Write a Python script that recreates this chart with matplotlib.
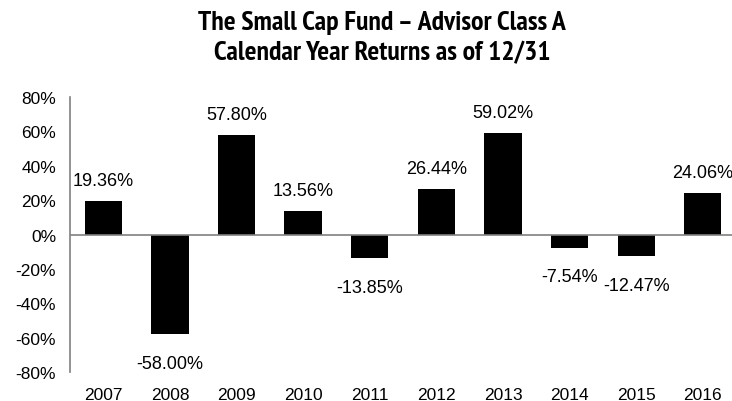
import matplotlib
matplotlib.use("Agg")
import matplotlib.pyplot as plt
from matplotlib.ticker import FuncFormatter
from matplotlib import font_manager
from matplotlib.font_manager import FontProperties
import os

years = ["2007", "2008", "2009", "2010", "2011", "2012", "2013", "2014", "2015", "2016"]
returns = [19.36, -58.00, 57.80, 13.56, -13.85, 26.44, 59.02, -7.54, -12.47, 24.06]
title_lines = ["The Small Cap Fund \u2013 Advisor Class A", "Calendar Year Returns as of 12/31"]

plt.rcParams["font.family"] = ["Liberation Sans", "DejaVu Sans"]

# Prefer a narrow/condensed bold face for the title if one is installed
title_fp = None
cands = []
for f in font_manager.fontManager.ttflist:
    base = os.path.basename(f.fname).lower()
    if ("narrow" in base or "condensed" in base) and "bold" in base and "italic" not in base and "oblique" not in base:
        rank = 0 if "narrow" in base else 1
        cands.append((rank, f.fname))
cands.sort()
if cands:
    title_fp = FontProperties(fname=cands[0][1])
else:
    title_fp = FontProperties(family="Liberation Sans", weight="bold")

fig = plt.figure(figsize=(7.32, 4.02), dpi=100)
ax = fig.add_axes([0.0956, 0.072, 0.91, 0.684])

x = list(range(len(years)))
ax.bar(x, returns, width=0.56, color="black", zorder=2)

for xi, v in zip(x, returns):
    if v >= 0:
        ax.annotate(f"{v:.2f}%", (xi, v), xytext=(0, 8.5), textcoords="offset points",
                    ha="center", va="bottom", fontsize=13)
    else:
        ax.annotate(f"{v:.2f}%", (xi, v), xytext=(0, -15), textcoords="offset points",
                    ha="center", va="top", fontsize=13)

ax.set_ylim(-80, 80)
ax.set_yticks(range(-80, 81, 20))
ax.yaxis.set_major_formatter(FuncFormatter(lambda v, p: f"{int(v)}%"))
ax.set_xlim(-0.5, len(years) - 0.5)
ax.set_xticks(x)
ax.set_xticklabels(years)
ax.tick_params(axis="both", length=0, labelsize=12.5)
ax.tick_params(axis="y", pad=10)
ax.tick_params(axis="x", pad=11)

for s in ["top", "right", "bottom"]:
    ax.spines[s].set_visible(False)
ax.spines["left"].set_color("#808080")
ax.spines["left"].set_linewidth(1.2)
ax.axhline(0, color="#808080", linewidth=1.2, zorder=3)

t1 = fig.text(0.522, 0.944, title_lines[0], ha="center", va="center", fontsize=16,
              fontproperties=title_fp)
t2 = fig.text(0.522, 0.868, title_lines[1], ha="center", va="center", fontsize=16,
              fontproperties=title_fp)
t1.set_fontsize(16)
t2.set_fontsize(16)

# fit title width to the reference (~404 px for the first line)
fig.canvas.draw()
w = t1.get_window_extent().width
if w > 0:
    size = 16 * 404.0 / w
    size = min(size, 20)
    t1.set_fontsize(size)
    t2.set_fontsize(size)

fig.savefig("out.png", dpi=100)
